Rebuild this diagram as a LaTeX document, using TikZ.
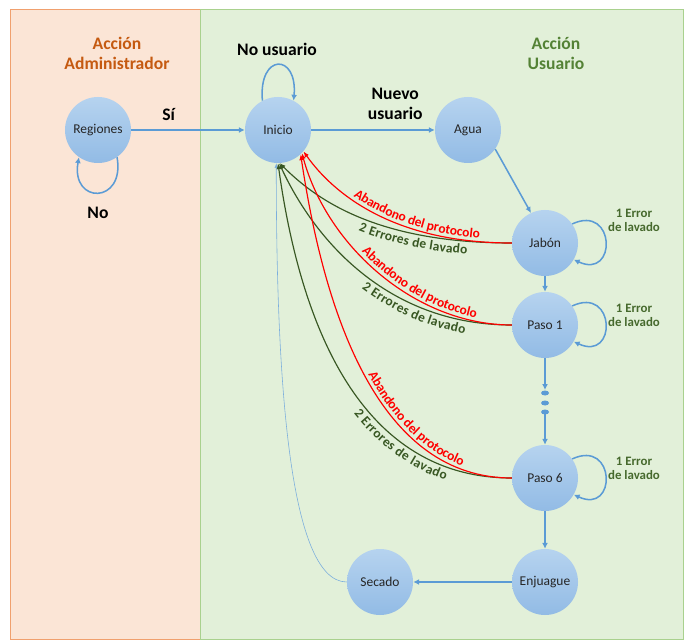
\documentclass[tikz,border=0pt]{standalone}
\usepackage{fontspec}
\setmainfont{Carlito}
\usetikzlibrary{positioning,arrows.meta,calc,decorations.text}
\definecolor{AdminFill}{RGB}{251,229,214}
\definecolor{AdminLine}{RGB}{240,160,110}
\definecolor{AdminText}{RGB}{197,90,17}
\definecolor{UserFill}{RGB}{226,240,217}
\definecolor{UserLine}{RGB}{169,209,142}
\definecolor{UserText}{RGB}{84,130,53}
\definecolor{StateTop}{RGB}{182,211,239}
\definecolor{StateBot}{RGB}{146,187,229}
\definecolor{FlowBlue}{RGB}{91,155,213}
\definecolor{QuitRed}{RGB}{255,0,0}
\definecolor{ErrGreen}{RGB}{56,87,35}
\definecolor{LoopText}{RGB}{70,105,45}

\newcommand{\quittext}{|\fontsize{11.5}{13}\selectfont\bfseries\color{QuitRed}|Abandono del protocolo}
\newcommand{\errtext}{|\fontsize{11.5}{13}\selectfont\bfseries\color{ErrGreen}|2 Errores de lavado}

\begin{document}
\begin{tikzpicture}[x=0.03cm, y=0.03cm,
    every node/.style={align=center},
    state/.style={circle, top color=StateTop, bottom color=StateBot, minimum size=1.98cm,
      inner sep=0pt, font=\fontsize{11.5}{13}\selectfont, text=black!85},
    flow/.style={draw=FlowBlue, line width=1.3pt, -{Latex[length=5pt,width=5pt]}},
    quit/.style={draw=QuitRed, line width=1pt, {Latex[length=5pt,width=4pt]}-,
      postaction={decorate, decoration={text along path, text={\quittext},
        raise=3pt, text align={left indent=#1}}}},
    errs/.style={draw=ErrGreen, line width=1pt, {Latex[length=5pt,width=4pt]}-,
      postaction={decorate, decoration={text along path, text={\errtext},
        raise=-11pt, text align={left indent=#1}}}},
    big/.style={font=\fontsize{15}{17}\selectfont\bfseries},
    looplabel/.style={font=\fontsize{11}{12}\selectfont\bfseries, text=LoopText}]
  \useasboundingbox (0,0) rectangle (684,639);
  % panels
  \fill[white] (0,0) rectangle (684,639);
  \draw[fill=AdminFill, draw=AdminLine] (10,0) rectangle (200,630);
  \draw[fill=UserFill, draw=UserLine] (200,0) rectangle (683,630);
  \node[big, text=AdminText] (admin) at (117,586) {Acción\\Administrador};
  \node[big, text=UserText] (user) at (556,586) {Acción\\Usuario};

  % states
  \node[state] (reg) at (98,509) {Regiones};
  \node[state] (ini) at (278,509) {Inicio};
  \node[state] (agua) at (468,509) {Agua};
  \node[state] (jab) at (545,396) {Jabón};
  \node[state] (p1) at (545,314) {Paso 1};
  \node[state] (p6) at (545,161) {Paso 6};
  \node[state] (enj) at (545,57) {Enjuague};
  \node[state] (sec) at (380,57) {Secado};
  \foreach \i/\y in {1/246, 2/236, 3/227}
    \fill[FlowBlue] (545,\y) ellipse (4 and 2.5) coordinate (dot\i);

  % main flow
  \draw[flow] (reg) -- node[big, above=4pt, pos=0.33] {Sí} (ini);
  \draw[flow] (ini) -- node[big, above=5pt, pos=0.68] {Nuevo\\usuario} (agua);
  \draw[flow] (agua.-35) -- (jab.115);
  \draw[flow] (jab) -- (p1);
  \draw[flow] (p1) -- ($(dot1)+(0,3)$);
  \draw[flow] ($(dot3)+(0,-2)$) -- (p6);
  \draw[flow] (p6) -- (enj);
  \draw[flow] (enj) -- (sec);
  \draw[draw=FlowBlue!80, line width=0.5pt, -{Latex[length=4pt,width=3pt]}]
    (sec.west) .. controls +(-60,0) and +(0,-200) .. (ini.-93);

  % loops
  \draw[flow] (reg.-55) .. controls +(-80:48) and +(-100:48) .. (reg.-125);
  \node[big] (no) at (98,426) {No};
  \draw[flow] (ini.118) .. controls +(95:48) and +(85:48) .. (ini.62);
  \node[big] (nouser) at (277,590) {No usuario};
  \foreach \s/\y in {jab/419, p1/324, p6/171} {
    \draw[flow] (\s.35) .. controls +(25:48) and +(-25:48) .. (\s.-30);
    \node[looplabel] at (634,\y) {1 Error\\de lavado};
  }

  % returns to Inicio
  \draw[errs=86pt] (ini.-87) .. controls +(40,-40) and +(-130,0) .. (jab.west);
  \draw[quit=58pt] (ini.-40) .. controls +(29,-41) and +(-120,0) .. (jab.west);
  \draw[errs=126pt] (ini.-88) .. controls +(38,-82) and +(-120,0) .. (p1.west);
  \draw[quit=100pt] (ini.-44) .. controls +(26,-95) and +(-95,0) .. (p1.west);
  \draw[errs=222pt] (ini.-90) .. controls +(23,-165) and +(-150,0) .. (p6.west);
  \draw[quit=198pt] (ini.-47) .. controls +(25,-168) and +(-130,0) .. (p6.west);
\end{tikzpicture}
\end{document}
